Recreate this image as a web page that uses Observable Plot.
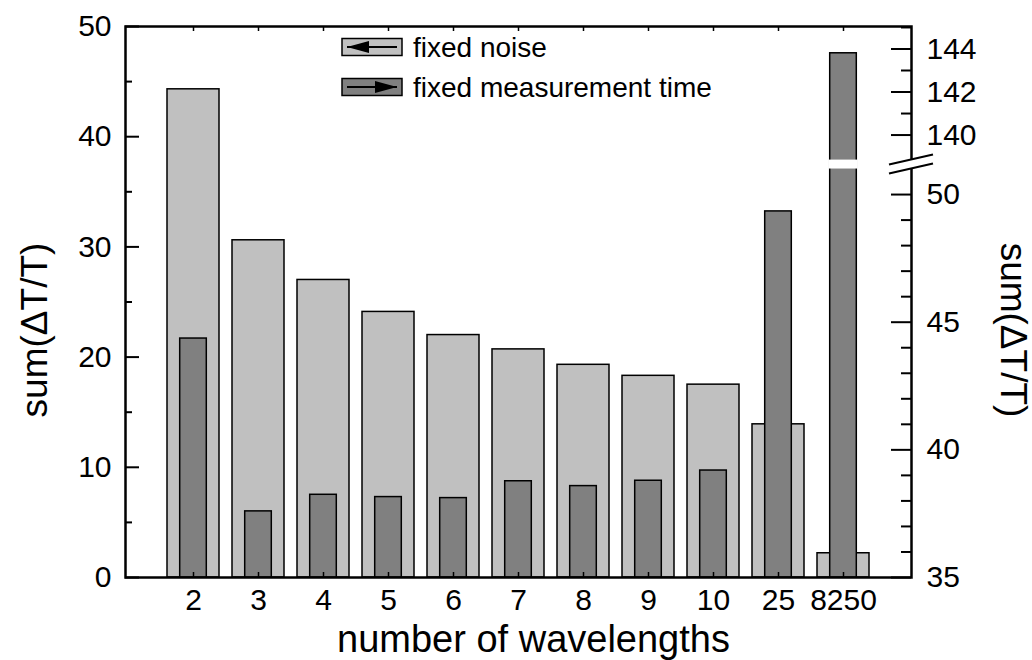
<!DOCTYPE html>
<html>
<head>
<meta charset="utf-8">
<script src="https://cdn.jsdelivr.net/npm/d3@7"></script>
<script src="https://cdn.jsdelivr.net/npm/@observablehq/plot@0.6"></script>
<style>
  body { margin: 0; background: #fff; }
  #chart { width: 1032px; height: 660px; }
</style>
</head>
<body>
<div id="chart"></div>
<script>
// Number of wavelengths used (category axis)
const categories = ["2", "3", "4", "5", "6", "7", "8", "9", "10", "25", "8250"];
// sum(ΔT/T) at fixed noise (left axis)
const fixedNoise = [44.3, 30.6, 27.0, 24.1, 22.0, 20.7, 19.3, 18.3, 17.5, 13.9, 2.2];
// sum(ΔT/T) at fixed measurement time (right, broken axis)
const fixedTime = [44.36, 37.59, 38.24, 38.15, 38.11, 38.77, 38.58, 38.79, 39.19, 49.34, 143.8];

// Tick values
const leftMajor = [0, 10, 20, 30, 40, 50];
const leftMinor = [5, 15, 25, 35, 45];
const rightMajor = [35, 40, 45, 50, 140, 142, 144];
const rightMinor = [36, 37, 38, 39, 41, 42, 43, 44, 46, 47, 48, 49, 141, 143, 145];

const W = 1032, H = 660;
const M = {top: 26, right: 121, bottom: 83, left: 125};
const innerW = W - M.left - M.right;
const innerH = H - M.top - M.bottom;

// The right axis is drawn in the left axis' units: two linear pieces around a break
const lowerPiece = d3.scaleLinear([35, 50], [0, 34.75]);
const upperPiece = d3.scaleLinear([140, 144], [40.15, 47.96]);
const toLeft = r => (r >= 100 ? upperPiece(r) : lowerPiece(r));
const gap = [lowerPiece(51.0), lowerPiece(51.35)];

const noiseRows = categories.map((n, i) => ({n, v: fixedNoise[i]}));
const timeRows = categories.map((n, i) => ({n, v: toLeft(fixedTime[i])}));
const gapRows = categories.filter((n, i) => fixedTime[i] >= 100).map(n => ({n, y1: gap[0], y2: gap[1]}));

const font = "'Liberation Sans', Arial, Helvetica, sans-serif";
const tickFont = 30;

const chart = Plot.plot({
  width: W,
  height: H,
  marginTop: M.top,
  marginRight: M.right,
  marginBottom: M.bottom,
  marginLeft: M.left,
  style: {fontFamily: font, background: "white", color: "black", overflow: "visible"},
  x: {type: "band", domain: categories, paddingInner: 0.2, paddingOuter: 0.6, axis: null},
  y: {domain: [0, 50], axis: null},
  marks: [
    Plot.barY(noiseRows, {x: "n", y: "v", fill: "#c0c0c0", stroke: "black", strokeWidth: 1.5}),
    Plot.barY(timeRows, {x: "n", y: "v", fill: "#808080", stroke: "black", strokeWidth: 1.5, insetLeft: 12.7, insetRight: 12.7}),
    Plot.barY(gapRows, {x: "n", y1: "y1", y2: "y2", fill: "white", insetLeft: 11.5, insetRight: 11.5}),

    // x ticks, bottom and top, pointing inward
    Plot.ruleX(categories, {x: d => d, insetTop: innerH - 5, stroke: "black", strokeWidth: 1.5}),
    Plot.ruleX(categories, {x: d => d, insetBottom: innerH - 5, stroke: "black", strokeWidth: 1.5}),

    // left axis ticks
    Plot.ruleY(leftMajor, {y: d => d, insetRight: innerW - 14, stroke: "black", strokeWidth: 2}),
    Plot.ruleY(leftMinor, {y: d => d, insetRight: innerW - 7, stroke: "black", strokeWidth: 2}),

    // right axis ticks
    Plot.ruleY(rightMajor, {y: d => toLeft(d), insetLeft: innerW - 20, stroke: "black", strokeWidth: 2}),
    Plot.ruleY(rightMinor, {y: d => toLeft(d), insetLeft: innerW - 10, stroke: "black", strokeWidth: 2}),

    Plot.frame({stroke: "black", strokeWidth: 2.5}),

    // tick labels
    Plot.text(leftMajor, {y: d => d, text: d => String(d), frameAnchor: "left", textAnchor: "end", lineAnchor: "middle", dx: -14, fontSize: tickFont}),
    Plot.text(rightMajor, {y: d => toLeft(d), text: d => String(d), frameAnchor: "right", textAnchor: "start", lineAnchor: "middle", dx: 15, fontSize: tickFont}),
    Plot.text(categories, {x: d => d, text: d => d, frameAnchor: "bottom", lineAnchor: "middle", dy: 23, fontSize: tickFont}),

    // axis titles
    Plot.text(["number of wavelengths"], {text: d => d, frameAnchor: "bottom", textAnchor: "middle", lineAnchor: "middle", dx: 15, dy: 62, fontSize: 38}),
    Plot.text(["sum(ΔT/T)"], {text: d => d, frameAnchor: "left", textAnchor: "middle", lineAnchor: "middle", rotate: -90, dx: -90, dy: 28, fontSize: 37}),
    Plot.text(["sum(ΔT/T)"], {text: d => d, frameAnchor: "right", textAnchor: "middle", lineAnchor: "middle", rotate: 90, dx: 101, dy: 28, fontSize: 37})
  ]
});

document.getElementById("chart").appendChild(chart);

const svg = d3.select(chart);
const y = chart.scale("y");
const xr = W - M.right;

// axis break marks on the right axis
const yc = y.apply((gap[0] + gap[1]) / 2);
const half = 22, rise = 5, sep = 4.5;
const brk = svg.append("g");
brk.append("polygon")
  .attr("points", [
    [xr - half, yc + rise - sep], [xr + half, yc - rise - sep],
    [xr + half, yc - rise + sep], [xr - half, yc + rise + sep]
  ].map(p => p.join(",")).join(" "))
  .attr("fill", "white");
for (const s of [-sep, sep]) {
  brk.append("line")
    .attr("x1", xr - half).attr("y1", yc + rise + s)
    .attr("x2", xr + half).attr("y2", yc - rise + s)
    .attr("stroke", "black").attr("stroke-width", 2);
}

// legend
const legendItems = [
  {label: "fixed noise", fill: "#c0c0c0", dir: -1},
  {label: "fixed measurement time", fill: "#808080", dir: 1}
];
const lg = svg.append("g").attr("font-family", font).attr("text-anchor", "start");
legendItems.forEach((d, i) => {
  const cy = 47 + i * 40;
  const bx = 342, bw = 60, bh = 17;
  lg.append("rect").attr("x", bx).attr("y", cy - bh / 2).attr("width", bw).attr("height", bh)
    .attr("fill", d.fill).attr("stroke", "black").attr("stroke-width", 1.5);
  const a0 = bx + 5, a1 = bx + bw - 5;
  lg.append("line").attr("x1", a0).attr("x2", a1).attr("y1", cy).attr("y2", cy)
    .attr("stroke", "black").attr("stroke-width", 2);
  const tip = d.dir < 0 ? a0 : a1, base = d.dir < 0 ? a0 + 22 : a1 - 22;
  lg.append("polygon").attr("points", `${tip},${cy} ${base},${cy - 6} ${base},${cy + 6}`).attr("fill", "black");
  lg.append("text").attr("x", 413).attr("y", cy).attr("dy", "0.35em")
    .attr("font-size", 28).attr("fill", "black").text(d.label);
});
</script>
</body>
</html>
